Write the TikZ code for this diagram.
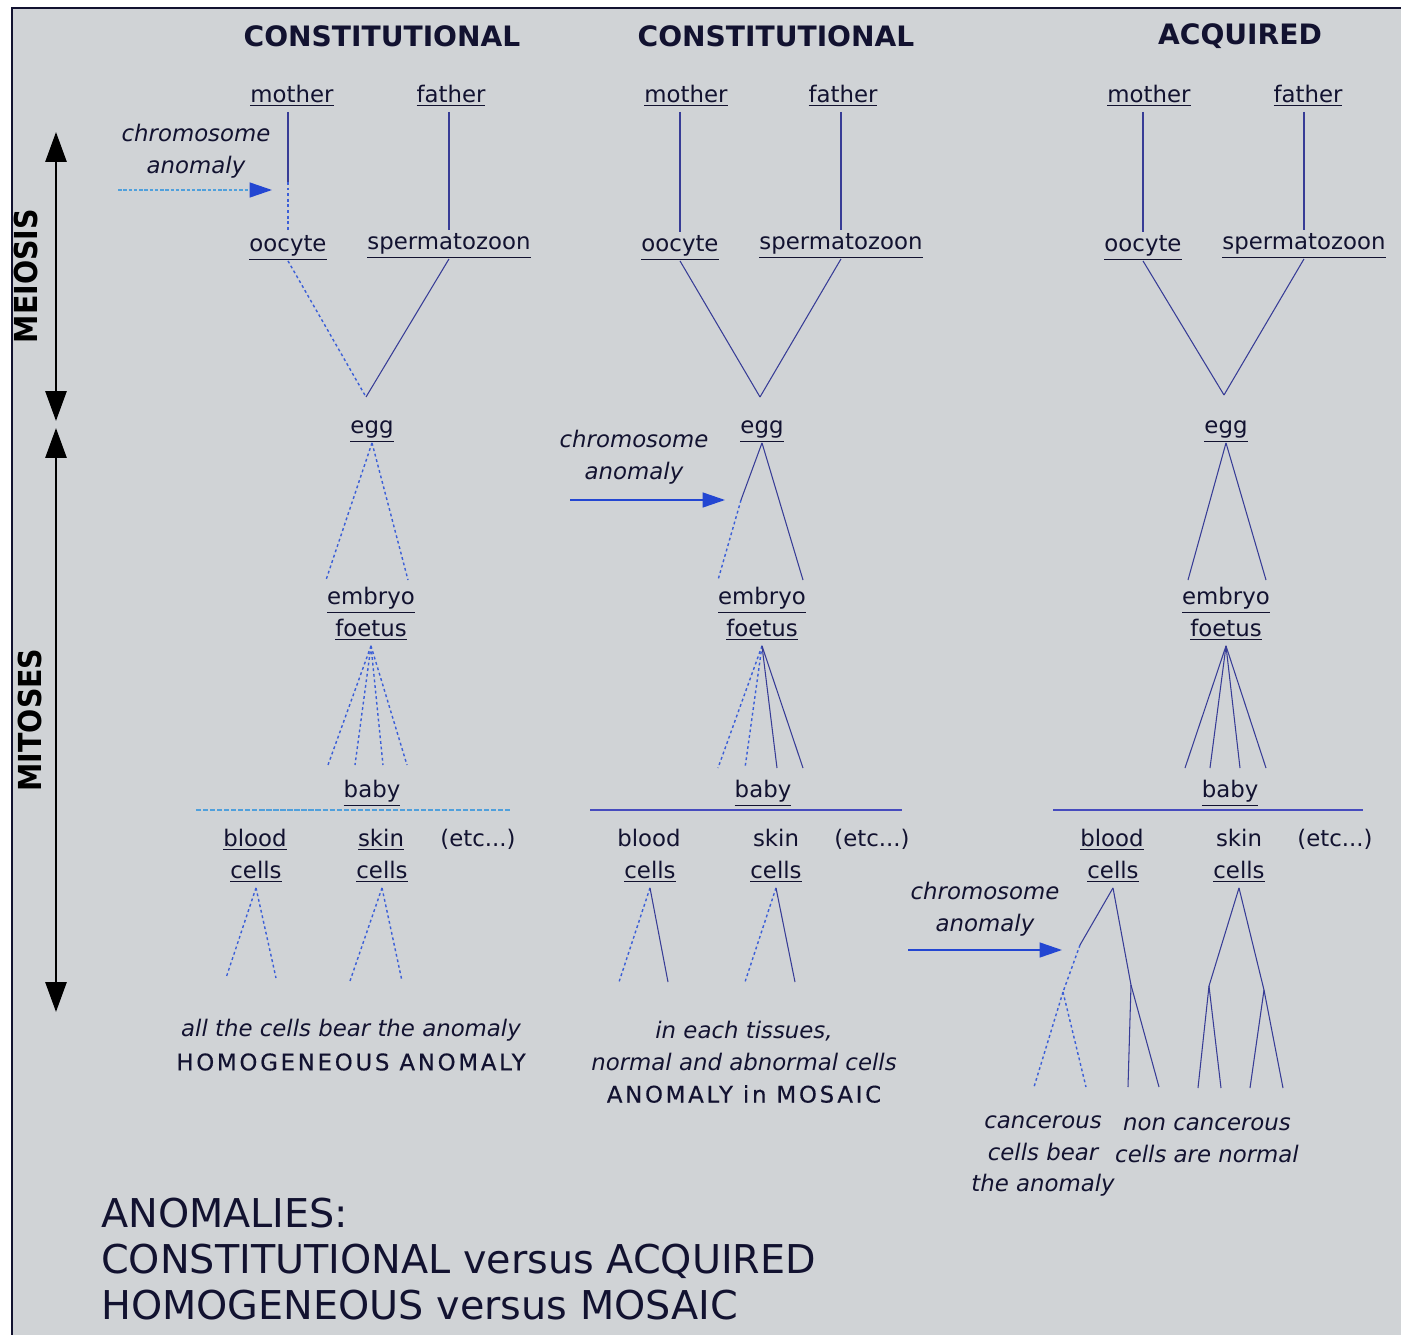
\documentclass[tikz,border=0pt]{standalone}
\usepackage{fontspec}
\setmainfont{DejaVu Sans}
\newfontfamily\condfont{DejaVu Sans Condensed}
\usetikzlibrary{arrows.meta}

\definecolor{paper}{RGB}{208,211,214}
\definecolor{ink}{RGB}{18,18,48}
\definecolor{linkc}{RGB}{55,60,150}
\definecolor{dotc}{RGB}{60,95,215}
\definecolor{hitc}{RGB}{35,70,210}
\definecolor{paleblue}{RGB}{80,160,220}
\definecolor{rulec}{RGB}{70,75,190}

\begin{document}
\begin{tikzpicture}[x=0.02cm, y=-0.02cm, lbl/.style={text=ink, font=\fontsize{13}{18}\selectfont, text height=9.5pt, text depth=3.5pt, inner sep=1.5pt, yshift=-2pt}, note/.style={text=ink, font=\fontsize{13}{18}\selectfont\itshape, align=center, inner sep=0pt}, head/.style={text=ink, font=\fontsize{16}{20}\selectfont\bfseries}, caps/.style={text=ink, font=\fontsize{13}{18}\selectfont\addfontfeature{LetterSpace=12, FakeBold=0.4}}, axislbl/.style={text=black, font=\fontsize{18}{20}\condfont\bfseries}, tie/.style={draw=linkc, line width=0.6pt}, dotlink/.style={draw=dotc, line width=0.8pt, dash pattern=on 1.6pt off 1.6pt}, hit/.style={draw=hitc, line width=0.9pt, -{Triangle[length=0.45cm, width=0.3cm, color=hitc]}}, axis/.style={line width=1.6pt, {Triangle[length=0.6cm, width=0.42cm]}-{Triangle[length=0.6cm, width=0.42cm]}}]

\useasboundingbox (0,0) rectangle (1401,1335);
\fill[white] (0,0) rectangle (1401,1335);
\fill[paper] (12,8) rectangle (1401,1335);
\draw[ink, line width=1.2pt] (12,1335) -- (12,8) -- (1401,8);

\node[head] (headA) at (382,36) {CONSTITUTIONAL};
\node[head] (headB) at (776,36) {CONSTITUTIONAL};
\node[head] (headC) at (1240,36) {ACQUIRED};

\node[axislbl, rotate=90] (meio) at (26,276) {MEIOSIS};
\node[axislbl, rotate=90] (mito) at (30,720) {MITOSES};
\coordinate (meioTop) at (56,132); \coordinate (meioEnd) at (56,421);
\coordinate (mitoTop) at (56,428); \coordinate (mitoEnd) at (56,1012);
\draw[axis] (meioTop) -- (meioEnd); \draw[axis] (mitoTop) -- (mitoEnd);

\node[lbl] (mothA) at (292,94) {\underline{mother}};
\node[lbl] (fathA) at (451,94) {\underline{father}};
\node[lbl] (oocA) at (288,243) {\underline{oocyte}};
\node[lbl] (spermA) at (449,241) {\underline{spermatozoon}};
\node[lbl] (eggA) at (372,425) {\underline{egg}};
\node[lbl] (embA) at (371,596) {\underline{embryo}};
\node[lbl] (foetA) at (371,628) {\underline{foetus}};
\node[lbl] (babyA) at (372,789) {\underline{baby}};
\node[lbl] (bloodA) at (255,838) {\underline{blood}};
\node[lbl] (bcellA) at (256,870) {\underline{cells}};
\node[lbl] (skinA) at (381,838) {\underline{skin}};
\node[lbl] (scellA) at (382,870) {\underline{cells}};
\node[lbl] (etcA) at (478,838) {(etc...)};
\node[note] (anomA) at (196,151) {chromosome\\anomaly};
\node[note] (sumA) at (351,1030) {all the cells bear the anomaly};
\node[caps] (typeA) at (351,1062) {HOMOGENEOUS ANOMALY};

\coordinate (cutA) at (288,182); \coordinate (joinA) at (366,397);
\coordinate (hitA0) at (118,190); \coordinate (hitA) at (272,190);
\draw[tie] (oocA.north |- mothA.south) -- (cutA); \draw[dotlink] (cutA) -- (oocA.north); \draw[tie] (spermA.north |- fathA.south) -- (spermA.north);
\draw[hit, draw=paleblue, dash pattern=on 2pt off 1pt] (hitA0) -- (hitA);
\draw[dotlink] (oocA.south) -- (joinA); \draw[tie] (spermA.south) -- (joinA);
\coordinate (armA1) at (326,580); \coordinate (armA2) at (408,580);
\draw[dotlink] (eggA.south) -- (armA1); \draw[dotlink] (eggA.south) -- (armA2);
\foreach \n/\x in {1/328,2/355,3/383,4/407} {\coordinate (fanA\n) at (\x,765); \draw[dotlink] (foetA.south) -- (fanA\n);}
\draw[paleblue, line width=0.8pt, dash pattern=on 3pt off 1pt] (196,810) -- (510,810);
\foreach \n/\x in {1/226,2/276} {\coordinate (cellA\n) at (\x,978); \draw[dotlink] (bcellA.south) -- (cellA\n);}
\foreach \n/\x in {3/350,4/402} {\coordinate (cellA\n) at (\x,981); \draw[dotlink] (scellA.south) -- (cellA\n);}

\node[lbl] (mothB) at (686,94) {\underline{mother}};
\node[lbl] (fathB) at (843,94) {\underline{father}};
\node[lbl] (oocB) at (680,243) {\underline{oocyte}};
\node[lbl] (spermB) at (841,241) {\underline{spermatozoon}};
\node[lbl] (eggB) at (762,425) {\underline{egg}};
\node[lbl] (embB) at (762,596) {\underline{embryo}};
\node[lbl] (foetB) at (762,628) {\underline{foetus}};
\node[lbl] (babyB) at (763,789) {\underline{baby}};
\node[lbl] (bloodB) at (649,838) {blood};
\node[lbl] (bcellB) at (650,870) {\underline{cells}};
\node[lbl] (skinB) at (776,838) {skin};
\node[lbl] (scellB) at (776,870) {\underline{cells}};
\node[lbl] (etcB) at (872,838) {(etc...)};
\node[note] (anomB) at (634,457) {chromosome\\anomaly};
\node[note] (sumB) at (744,1046) {in each tissues,\\normal and abnormal cells};
\node[caps] (typeB) at (744,1094) {ANOMALY in MOSAIC};

\coordinate (joinB) at (760,397); \coordinate (cutB) at (741,500);
\coordinate (hitB0) at (570,500); \coordinate (hitB) at (725,500);
\draw[tie] (oocB.north |- mothB.south) -- (oocB.north); \draw[tie] (spermB.north |- fathB.south) -- (spermB.north);
\draw[tie] (oocB.south) -- (joinB); \draw[tie] (spermB.south) -- (joinB);
\draw[hit] (hitB0) -- (hitB);
\coordinate (armB1) at (718,580); \coordinate (armB2) at (803,580);
\draw[tie] (eggB.south) -- (cutB); \draw[dotlink] (cutB) -- (armB1); \draw[tie] (eggB.south) -- (armB2);
\foreach \n/\x/\s in {1/718/dotlink,2/745/dotlink,3/777/tie,4/803/tie} {\coordinate (fanB\n) at (\x,768); \draw[\s] (foetB.south) -- (fanB\n);}
\draw[rulec, line width=0.8pt] (590,810) -- (902,810);
\foreach \n/\x/\s in {1/619/dotlink,2/668/tie} {\coordinate (cellB\n) at (\x,982); \draw[\s] (bcellB.south) -- (cellB\n);}
\foreach \n/\x/\s in {3/745/dotlink,4/795/tie} {\coordinate (cellB\n) at (\x,982); \draw[\s] (scellB.south) -- (cellB\n);}

\node[lbl] (mothC) at (1149,94) {\underline{mother}};
\node[lbl] (fathC) at (1308,94) {\underline{father}};
\node[lbl] (oocC) at (1143,243) {\underline{oocyte}};
\node[lbl] (spermC) at (1304,241) {\underline{spermatozoon}};
\node[lbl] (eggC) at (1226,425) {\underline{egg}};
\node[lbl] (embC) at (1226,596) {\underline{embryo}};
\node[lbl] (foetC) at (1226,628) {\underline{foetus}};
\node[lbl] (babyC) at (1230,789) {\underline{baby}};
\node[lbl] (bloodC) at (1112,838) {\underline{blood}};
\node[lbl] (bcellC) at (1113,870) {\underline{cells}};
\node[lbl] (skinC) at (1239,838) {skin};
\node[lbl] (scellC) at (1239,870) {\underline{cells}};
\node[lbl] (etcC) at (1335,838) {(etc...)};
\node[note] (anomC) at (985,909) {chromosome\\anomaly};
\node[note] (cancC) at (1043,1156) {cancerous\\cells bear\\the anomaly};
\node[note] (normC) at (1207,1140) {non cancerous\\cells are normal};

\coordinate (joinC) at (1224,395);
\coordinate (hitC0) at (908,950); \coordinate (hitC) at (1062,950);
\draw[tie] (oocC.north |- mothC.south) -- (oocC.north); \draw[tie] (spermC.north |- fathC.south) -- (spermC.north);
\draw[tie] (oocC.south) -- (joinC); \draw[tie] (spermC.south) -- (joinC);
\coordinate (armC1) at (1188,580); \coordinate (armC2) at (1266,580);
\draw[tie] (eggC.south) -- (armC1); \draw[tie] (eggC.south) -- (armC2);
\foreach \n/\x in {1/1185,2/1210,3/1240,4/1266} {\coordinate (fanC\n) at (\x,768); \draw[tie] (foetC.south) -- (fanC\n);}
\draw[rulec, line width=0.8pt] (1053,810) -- (1363,810);
\draw[hit] (hitC0) -- (hitC);
\coordinate (cutC) at (1080,945); \coordinate (splitC1) at (1063,992); \coordinate (splitC2) at (1131,985);
\coordinate (splitC3) at (1209,986); \coordinate (splitC4) at (1264,990);
\draw[tie] (bcellC.south) -- (cutC); \draw[dotlink] (cutC) -- (splitC1); \draw[tie] (bcellC.south) -- (splitC2);
\draw[tie] (scellC.south) -- (splitC3); \draw[tie] (scellC.south) -- (splitC4);
\foreach \n/\x in {1/1034,2/1086} {\coordinate (leafC\n) at (\x,1087); \draw[dotlink] (splitC1) -- (leafC\n);}
\foreach \n/\x in {3/1128,4/1159} {\coordinate (leafC\n) at (\x,1087); \draw[tie] (splitC2) -- (leafC\n);}
\foreach \n/\x in {5/1198,6/1221} {\coordinate (leafC\n) at (\x,1088); \draw[tie] (splitC3) -- (leafC\n);}
\foreach \n/\x in {7/1250,8/1283} {\coordinate (leafC\n) at (\x,1088); \draw[tie] (splitC4) -- (leafC\n);}

\node[anchor=west, align=left, text=ink, font=\fontsize{22.6}{26}\selectfont] (legend) at (95,1259) {ANOMALIES:\\CONSTITUTIONAL versus ACQUIRED\\HOMOGENEOUS versus MOSAIC};

\end{tikzpicture}
\end{document}
